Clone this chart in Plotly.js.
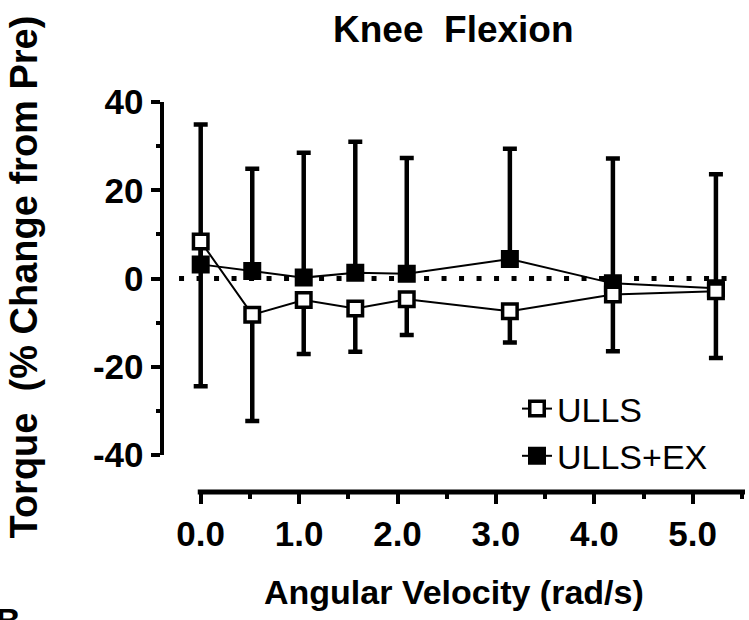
<!DOCTYPE html>
<html>
<head>
<meta charset="utf-8">
<script src="https://cdn.plot.ly/plotly-3.0.1.min.js"></script>
<style>html,body{margin:0;padding:0;background:#fff;}#chart{width:749px;height:620px;}</style>
</head>
<body>
<div id="chart"></div>
<script>
// ---- data ----
var velocity = [0.0, 0.524, 1.047, 1.571, 2.094, 3.142, 4.189, 5.236]; // rad/s
var ullsMean = [8.4, -8.2, -4.9, -6.8, -4.7, -7.4, -3.6, -2.9];
var ullsSD   = [32.8, 24.1, 12.2, 9.8, 8.1, 7.1, 12.9, 15.1];   // drawn downward
var exMean   = [3.2, 1.7, 0.2, 1.3, 1.1, 4.4, -1.1, -2.2];
var exSD     = [31.7, 23.2, 28.3, 29.7, 26.2, 25.0, 28.3, 25.8]; // drawn upward
var seriesNames = ['ULLS', 'ULLS+EX'];
var xTickVals = [0, 1, 2, 3, 4, 5];
var xTickText = ['0.0', '1.0', '2.0', '3.0', '4.0', '5.0'];
var yTickVals = [-40, -20, 0, 20, 40];
var yTickText = ['-40', '-20', '0', '20', '40'];

// ---- layout helpers (pixel geometry of the 749x620 canvas) ----
var W = 749, H = 620;
function px(x) { return x / W; }
function py(y) { return (H - y) / H; }
var zeros = velocity.map(function () { return 0; });
var FAMILY = 'Liberation Sans, Arial, sans-serif';
function f(size, weight) { return { family: FAMILY, color: 'black', size: size, weight: weight || 'bold' }; }

var xPxZero = 200.7, xPxPerUnit = 98.4, xDomL = 163.5, xDomR = 745;
var xRange = [(xDomL - xPxZero) / xPxPerUnit, (xDomR - xPxZero) / xPxPerUnit];

var traces = [
  {
    name: seriesNames[1], x: velocity, y: exMean, type: 'scatter', mode: 'lines+markers',
    line: { color: 'black', width: 2 },
    marker: { symbol: 'square', size: 14.5, color: 'black', line: { color: 'black', width: 3.5 } },
    error_y: { type: 'data', symmetric: false, array: exSD, arrayminus: zeros,
               color: 'black', thickness: 4.5, width: 7 },
    cliponaxis: false
  },
  {
    name: seriesNames[0], x: velocity, y: ullsMean, type: 'scatter', mode: 'lines+markers',
    line: { color: 'black', width: 2 },
    marker: { symbol: 'square', size: 14.5, color: 'white', line: { color: 'black', width: 3.5 } },
    error_y: { type: 'data', symmetric: false, array: zeros, arrayminus: ullsSD,
               color: 'black', thickness: 4.5, width: 7 },
    cliponaxis: false
  }
];

var layout = {
  width: W, height: H,
  margin: { l: 0, r: 0, t: 0, b: 0 },
  paper_bgcolor: 'white', plot_bgcolor: 'white',
  showlegend: true,
  legend: {
    x: px(517), y: py(380), xanchor: 'left', yanchor: 'top',
    traceorder: 'reversed', font: f(34, 'normal'), bgcolor: 'rgba(0,0,0,0)',
    itemwidth: 30, tracegroupgap: 0
  },
  xaxis: {
    domain: [px(xDomL), px(xDomR)], range: xRange,
    anchor: 'free', position: py(492),
    showline: false, showgrid: false, zeroline: false,
    tickmode: 'array', tickvals: xTickVals, ticktext: xTickText,
    ticks: 'outside', ticklen: 11, tickwidth: 4, tickcolor: 'black',
    minor: { tickmode: 'linear', tick0: 0.5, dtick: 1, ticks: 'outside', ticklen: 6, tickwidth: 4, tickcolor: 'black', showgrid: false },
    tickfont: f(35)
  },
  yaxis: {
    domain: [py(455), py(102)], range: [-40, 40],
    showline: true, linewidth: 4, linecolor: 'black', mirror: false,
    showgrid: false, zeroline: false,
    tickmode: 'array', tickvals: yTickVals, ticktext: yTickText,
    ticks: 'outside', ticklen: 9, tickwidth: 4, tickcolor: 'black',
    minor: { tickmode: 'linear', tick0: -30, dtick: 20, ticks: 'outside', ticklen: 4, tickwidth: 4, tickcolor: 'black', showgrid: false },
    tickfont: f(35)
  },
  shapes: [
    { type: 'line', layer: 'below', xref: 'x', yref: 'y', x0: -0.22, x1: 5.47, y0: 0, y1: 0,
      line: { color: 'black', width: 5, dash: '5px,12.5px' } },
    { type: 'line', layer: 'above', xref: 'x', yref: 'paper', x0: -0.03, x1: xRange[1], y0: py(492), y1: py(492),
      line: { color: 'black', width: 5 } }
  ],
  annotations: [
    { text: 'Knee&nbsp; Flexion', xref: 'paper', yref: 'paper', x: px(453), y: py(30),
      xanchor: 'center', yanchor: 'middle', showarrow: false, font: f(37) },
    { text: 'Torque&nbsp; (% Change from Pre)', xref: 'paper', yref: 'paper', x: px(23), y: py(277.5),
      xanchor: 'center', yanchor: 'middle', textangle: -90, showarrow: false, font: f(38) },
    { text: 'Angular Velocity (rad/s)', xref: 'paper', yref: 'paper', x: px(454), y: py(592),
      xanchor: 'center', yanchor: 'middle', showarrow: false, font: f(34) },
    { text: 'B', xref: 'paper', yref: 'paper', x: px(8), y: py(620),
      xanchor: 'center', yanchor: 'middle', showarrow: false, font: f(34) }
  ]
};

Plotly.newPlot('chart', traces, layout, { displayModeBar: false, staticPlot: true });
</script>
</body>
</html>
